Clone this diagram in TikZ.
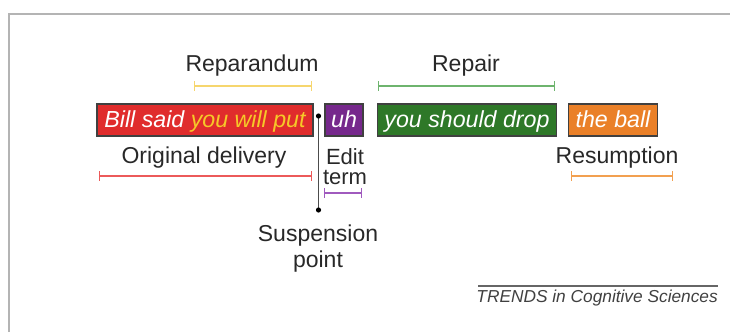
\documentclass[tikz,border=0pt]{standalone}
\usepackage{fontspec}
\setmainfont{Liberation Sans}
\definecolor{boxred}{RGB}{224,44,44}
\definecolor{boxyellowtext}{RGB}{246,200,40}
\definecolor{boxpurple}{RGB}{118,40,140}
\definecolor{boxgreen}{RGB}{46,120,40}
\definecolor{boxorange}{RGB}{234,128,40}
\definecolor{brkyellow}{RGB}{246,214,110}
\definecolor{brkgreen}{RGB}{110,180,110}
\definecolor{brkred}{RGB}{236,90,90}
\definecolor{brkpurple}{RGB}{160,90,190}
\definecolor{brkorange}{RGB}{242,160,80}
\definecolor{framegray}{RGB}{180,180,180}
\definecolor{txt}{RGB}{40,40,40}
\tikzset{
  wordbox/.style={draw=black!75, line width=1.2pt, minimum height=32pt, inner sep=0pt,
    text=white, font=\fontsize{23.2}{26}\selectfont\itshape, text height=18pt, text depth=3pt},
  lab/.style={text=txt, font=\fontsize{23}{26}\selectfont, inner sep=0pt, align=center},
  brk/.style={line width=1.4pt, |-|, >=Bar},
}
\begin{document}
\begin{tikzpicture}[x=1pt,y=-1pt]
\useasboundingbox (0,0) rectangle (730,332);
% frame
\draw[framegray, line width=2pt] (9,332) -- (9,14) -- (730,14);
% boxes
\node[wordbox, fill=boxred, minimum width=216pt] (bill) at (205,120) {Bill said \textcolor{boxyellowtext}{you will put}};
\node[wordbox, fill=boxpurple, minimum width=38pt] (uh) at (344,120) {uh};
\node[wordbox, fill=boxgreen, minimum width=179pt] (drop) at (467,120) {you should drop};
\node[wordbox, fill=boxorange, minimum width=89pt] (ball) at (613,120) {the ball};
% suspension line
\coordinate (sp1) at (318.5,116);
\coordinate (sp2) at (318.5,210);
\draw[black!70, line width=1.2pt] (sp1) -- (sp2);
\fill[black] (sp1) circle (2.6pt);
\fill[black] (sp2) circle (2.6pt);
% labels
\node[lab] (rep) at (252,66) {Reparandum};
\node[lab] (repair) at (466,66) {Repair};
\node[lab] (orig) at (204,158) {Original delivery};
\node[lab, font=\fontsize{22}{20}\selectfont] (edit) at (345,167) {Edit\\term};
\node[lab] (res) at (617,158) {Resumption};
\node[lab, font=\fontsize{23}{26}\selectfont] (susp) at (318,249) {Suspension\\point};
% brackets
\coordinate (r1) at (194,86); \coordinate (r2) at (312,86);
\draw[brk, brkyellow] (r1) -- (r2);
\coordinate (g1) at (378,86); \coordinate (g2) at (555,86);
\draw[brk, brkgreen] (g1) -- (g2);
\coordinate (o1) at (99,176); \coordinate (o2) at (312,176);
\draw[brk, brkred] (o1) -- (o2);
\coordinate (p1) at (324,193); \coordinate (p2) at (362,193);
\draw[brk, brkpurple] (p1) -- (p2);
\coordinate (q1) at (571,176); \coordinate (q2) at (673,176);
\draw[brk, brkorange] (q1) -- (q2);
% journal
\coordinate (j1) at (478,286); \coordinate (j2) at (718,286);
\draw[black!60, line width=1.4pt] (j1) -- (j2);
\node[anchor=north east, inner sep=0pt, text=black!75, font=\fontsize{17.3}{19}\selectfont\itshape] (trends) at (718,290) {TRENDS in Cognitive Sciences};
\end{tikzpicture}
\end{document}
